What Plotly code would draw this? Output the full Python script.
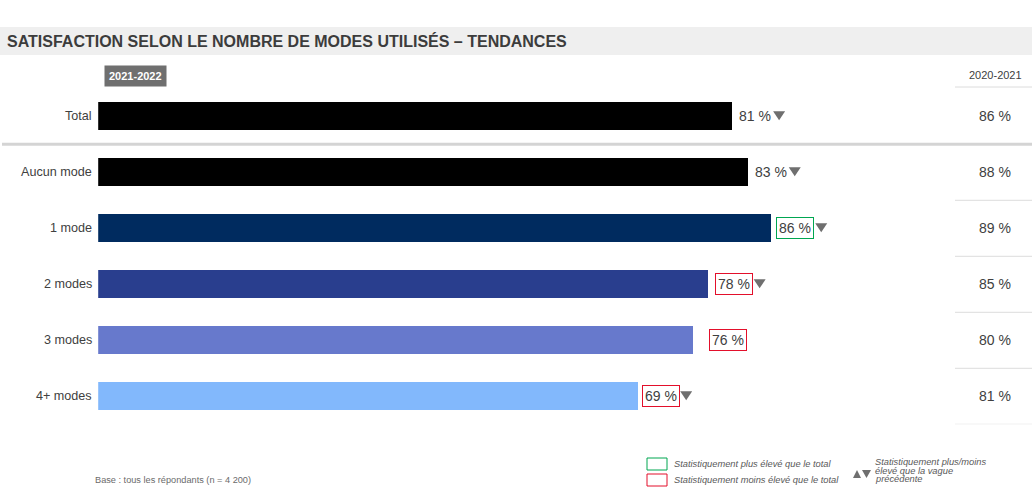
import plotly.graph_objects as go

# ---------------- data ----------------
categories = ["Total", "Aucun mode", "1 mode", "2 modes", "3 modes", "4+ modes"]
values_2122 = [81, 83, 86, 78, 76, 69]
values_2021 = [86, 88, 89, 85, 80, 81]
significance = ["", "", "higher", "lower", "lower", "lower"]   # vs total
trend = ["down", "down", "down", "down", "", "down"]           # vs previous wave
label_current = "2021-2022"
label_previous = "2020-2021"
title_text = "SATISFACTION SELON LE NOMBRE DE MODES UTILISÉS – TENDANCES"
base_text = "Base : tous les répondants (n = 4 200)"
legend_higher = "Statistiquement plus élevé que le total"
legend_lower = "Statistiquement moins élevé que le total"
legend_trend = ["Statistiquement plus/moins", "élevé que la vague", "précédente"]

# ---------------- styles ----------------
W, H = 1032, 497
FONT = "Arial, 'Liberation Sans', sans-serif"
TXT = "#404040"
bar_colors = ["#000000", "#000000", "#002b5f", "#293e8e", "#6779cc", "#82b8fc"]
sig_colors = {"higher": "#00a651", "lower": "#e30f2b", "": "rgba(0,0,0,0)"}
label_shift = [4, 4, 5, 6, 16, 4]
tri_shift = [37, 37, 39, 39, 39, 38]
TRI = "#6f6f6f"


def px(x):
    return x / W


def py(y):
    return 1 - y / H


ypos = list(range(len(categories)))

fig = go.Figure()
fig.add_trace(go.Bar(
    x=values_2122, y=ypos, orientation="h",
    marker=dict(color=bar_colors, line=dict(width=0)),
    width=0.49, hoverinfo="skip", showlegend=False,
))

x0_px = 98.2
unit_px = 7.826
fig.update_layout(
    width=W, height=H,
    margin=dict(l=0, r=0, t=0, b=0),
    paper_bgcolor="white", plot_bgcolor="white",
    font=dict(family=FONT, color=TXT),
    xaxis=dict(domain=[px(x0_px), 1], range=[0, (W - x0_px) / unit_px],
               visible=False, fixedrange=True),
    yaxis=dict(domain=[py(424.3), py(88.3)], range=[5.5, -0.5],
               visible=False, fixedrange=True),
    bargap=0,
)

shapes = []
annotations = []

# title band
shapes.append(dict(type="rect", xref="paper", yref="paper",
                   x0=0, x1=1, y0=py(55), y1=py(27),
                   fillcolor="#efefef", line=dict(width=0), layer="below"))
annotations.append(dict(text="<b>" + title_text + "</b>", xref="paper", yref="paper",
                        x=px(5), y=py(41), xanchor="left", yanchor="middle",
                        showarrow=False, font=dict(size=16, color="#3c3c3c", family=FONT)))

# header boxes
annotations.append(dict(text="<b>" + label_current + "</b>", xref="paper", yref="paper",
                        x=px(135.5), y=py(76), xanchor="center", yanchor="middle",
                        showarrow=False, bgcolor="#6f6f6f", borderpad=4,
                        font=dict(size=11, color="white", family=FONT)))
annotations.append(dict(text=label_previous, xref="paper", yref="paper",
                        x=px(995), y=py(75), xanchor="center", yanchor="middle",
                        showarrow=False, font=dict(size=11, color=TXT, family=FONT)))
shapes.append(dict(type="line", xref="paper", yref="paper",
                   x0=px(955), x1=1, y0=py(87), y1=py(87),
                   line=dict(color="#dcdcdc", width=1)))

# separator under Total
shapes.append(dict(type="line", xref="paper", yref="y",
                   x0=px(2), x1=1, y0=0.5, y1=0.5,
                   line=dict(color="#d4d4d4", width=3)))

for i, cat in enumerate(categories):
    # category label
    annotations.append(dict(text=cat, xref="paper", yref="y", x=px(94), y=i,
                            xanchor="right", yanchor="middle", showarrow=False,
                            font=dict(size=12.6, color=TXT, family=FONT)))
    # value label with significance box
    annotations.append(dict(text=f"{values_2122[i]} %", xref="x", yref="y",
                            x=values_2122[i], y=i, xanchor="left", yanchor="middle",
                            xshift=label_shift[i], showarrow=False,
                            bordercolor=sig_colors[significance[i]], borderwidth=1,
                            borderpad=2,
                            font=dict(size=14, color=TXT, family=FONT)))
    # trend triangle
    if trend[i]:
        s = label_shift[i] + tri_shift[i]
        if trend[i] == "down":
            path = f"M {s},5 L {s + 12},5 L {s + 6},-4 Z"
        else:
            path = f"M {s},-4 L {s + 12},-4 L {s + 6},5 Z"
        shapes.append(dict(type="path", xref="x", yref="y",
                           xsizemode="pixel", ysizemode="pixel",
                           xanchor=values_2122[i], yanchor=i,
                           path=path, fillcolor=TRI, line=dict(width=0)))
    # previous wave value
    annotations.append(dict(text=f"{values_2021[i]} %", xref="paper", yref="y",
                            x=px(995), y=i, xanchor="center", yanchor="middle",
                            showarrow=False, font=dict(size=14, color=TXT, family=FONT)))
    if i >= 1:
        shapes.append(dict(type="line", xref="paper", yref="y",
                           x0=px(955), x1=1, y0=i + 0.5, y1=i + 0.5,
                           line=dict(color="#dcdcdc", width=1)))

# footnote
annotations.append(dict(text=base_text, xref="paper", yref="paper",
                        x=px(93), y=py(480), xanchor="left", yanchor="middle",
                        showarrow=False, font=dict(size=9.2, color="#6b6b6b", family=FONT)))

# legend: significance boxes
for (ytop, col, txt) in [(458, sig_colors["higher"], legend_higher),
                         (474, sig_colors["lower"], legend_lower)]:
    shapes.append(dict(type="rect", xref="paper", yref="paper",
                       x0=px(647), x1=px(667), y0=py(ytop + 12), y1=py(ytop),
                       line=dict(color=col, width=1), fillcolor="white"))
    annotations.append(dict(text="<i>" + txt + "</i>", xref="paper", yref="paper",
                            x=px(672), y=py(ytop + 6), xanchor="left", yanchor="middle",
                            showarrow=False, font=dict(size=9.3, color="#595959", family=FONT)))

# legend: trend triangles
shapes.append(dict(type="path", xref="paper", yref="paper",
                   path=f"M {px(853)},{py(478)} L {px(861)},{py(478)} L {px(857)},{py(470)} Z",
                   fillcolor=TRI, line=dict(width=0)))
shapes.append(dict(type="path", xref="paper", yref="paper",
                   path=f"M {px(862)},{py(470)} L {px(871)},{py(470)} L {px(866.5)},{py(478)} Z",
                   fillcolor=TRI, line=dict(width=0)))
for k, line in enumerate(legend_trend):
    annotations.append(dict(text="<i>" + line + "</i>", xref="paper", yref="paper",
                            x=px(873), y=py(462 + 8.7 * k), xanchor="left", yanchor="middle",
                            showarrow=False, font=dict(size=9.3, color="#595959", family=FONT)))

fig.update_layout(shapes=shapes, annotations=annotations)
fig.write_html(
    "out.html",
    config={"displayModeBar": False},
    post_script="document.body.style.margin='0';document.body.style.overflow='hidden';",
)
